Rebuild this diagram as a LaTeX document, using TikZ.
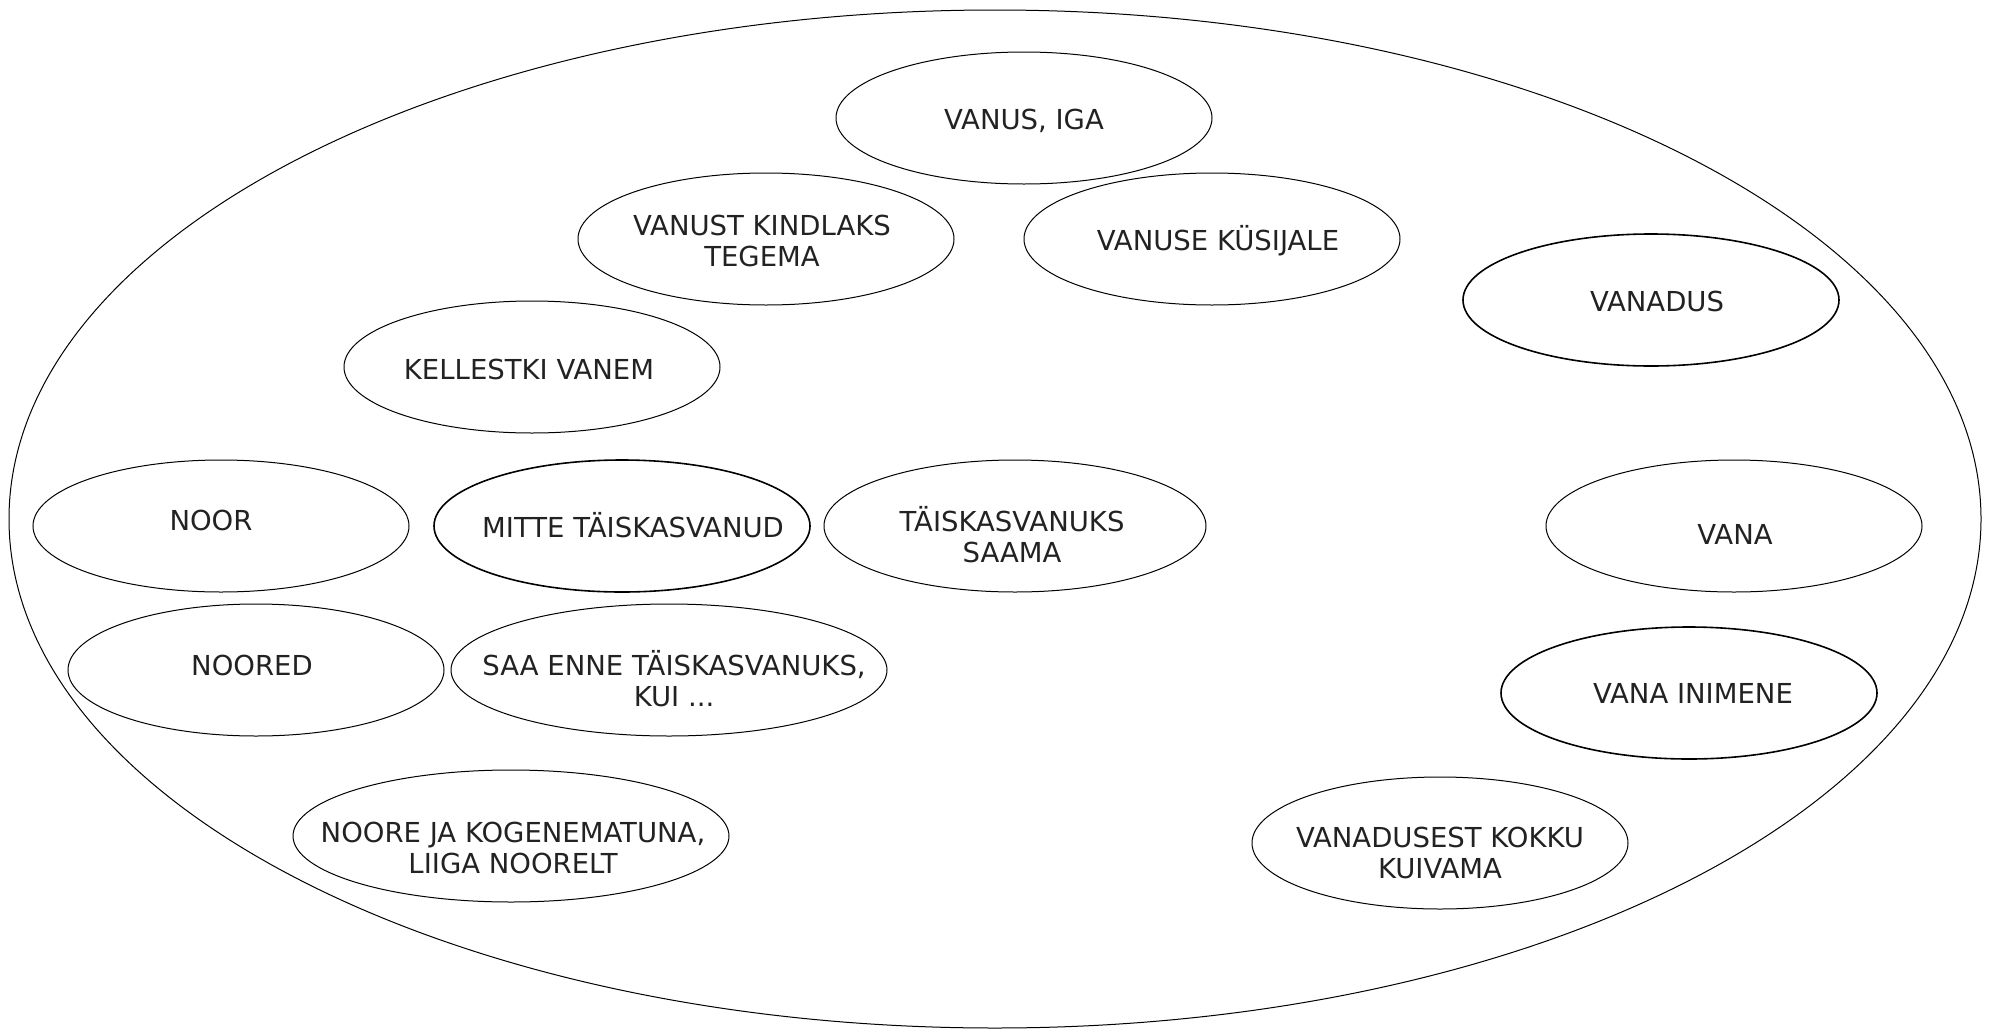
\documentclass[tikz,border=0pt]{standalone}
\usepackage{fontspec}
\setmainfont{DejaVu Sans}
\usetikzlibrary{shapes.geometric}
\definecolor{txt}{HTML}{222222}
\tikzset{
  oval/.style={draw=black, line width=1pt, ellipse, inner sep=0pt,
    minimum width=376pt, minimum height=132pt},
  ovalwide/.style={oval, minimum width=436pt},
  ovalbold/.style={oval, line width=1.6pt},
  lbl/.style={anchor=base, inner sep=0pt, text=txt,
    font=\fontsize{27.5}{31.5}\selectfont}
}
\newcommand{\twol}[2]{\begin{tabular}[t]{@{}c@{}}#1\\#2\end{tabular}}
\begin{document}
\begin{tikzpicture}[x=1pt,y=-1pt]
\useasboundingbox (0,0) rectangle (1990,1031);
\node[draw=black, line width=1pt, ellipse, inner sep=0pt,
  minimum width=1972pt, minimum height=1018pt] (outer) at (995,519) {};

\node[oval] (e1) at (1024,118) {};
\node[lbl] (t1) at (1024,129) {VANUS, IGA};

\node[oval] (e2) at (766,239) {};
\node[lbl] (t2) at (762,235) {\twol{VANUST KINDLAKS}{TEGEMA}};

\node[oval] (e3) at (1212,239) {};
\node[lbl] (t3) at (1218,250) {VANUSE KÜSIJALE};

\node[ovalbold] (e4) at (1651,300) {};
\node[lbl] (t4) at (1657,311) {VANADUS};

\node[oval] (e5) at (532,367) {};
\node[lbl] (t5) at (529,379) {KELLESTKI VANEM};

\node[oval] (e6) at (221,526) {};
\node[lbl] (t6) at (211,530) {NOOR};

\node[ovalbold] (e7) at (622,526) {};
\node[lbl] (t7) at (633,537) {MITTE TÄISKASVANUD};

\node[oval, minimum width=382pt] (e8) at (1015,526) {};
\node[lbl] (t8) at (1012,531) {\twol{TÄISKASVANUKS}{SAAMA}};

\node[oval] (e9) at (1734,526) {};
\node[lbl] (t9) at (1735,544) {VANA};

\node[oval] (e10) at (256,670) {};
\node[lbl] (t10) at (252,675) {NOORED};

\node[ovalwide] (e11) at (669,670) {};
\node[lbl] (t11) at (674,675) {\twol{SAA ENNE TÄISKASVANUKS,}{KUI ...}};

\node[ovalbold] (e12) at (1689,693) {};
\node[lbl] (t12) at (1693,703) {VANA INIMENE};

\node[ovalwide] (e13) at (511,836) {};
\node[lbl] (t13) at (513,842) {\twol{NOORE JA KOGENEMATUNA,}{LIIGA NOORELT}};

\node[oval] (e14) at (1440,843) {};
\node[lbl] (t14) at (1440,847) {\twol{VANADUSEST KOKKU}{KUIVAMA}};
\end{tikzpicture}
\end{document}
